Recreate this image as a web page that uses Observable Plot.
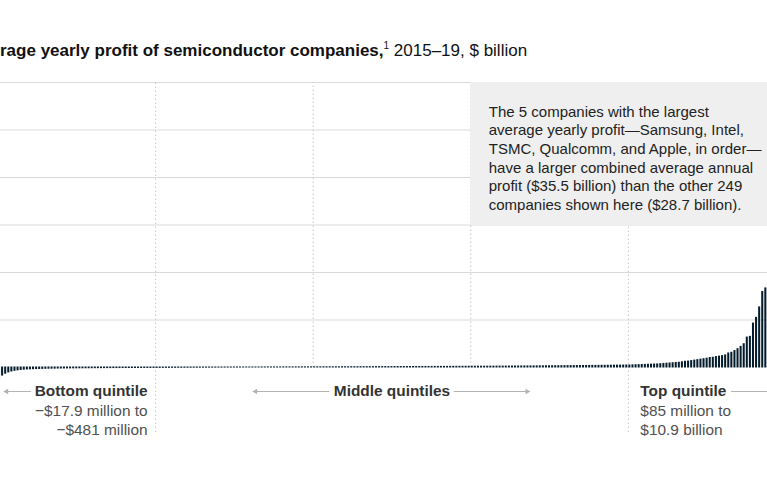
<!DOCTYPE html>
<html><head><meta charset="utf-8">
<script src="https://cdn.jsdelivr.net/npm/d3@7"></script>
<script src="https://cdn.jsdelivr.net/npm/@observablehq/plot@0.6"></script>
<style>
html,body{margin:0;padding:0;background:#fff;overflow:hidden}
#frame{position:relative;width:767px;height:480px;overflow:hidden;font-family:"Liberation Sans",Arial,sans-serif}
#title{position:absolute;top:40px;left:0;white-space:nowrap;font-size:17px;line-height:22px;color:#111}
#title b{font-weight:700}
#title sup{font-size:10px;vertical-align:7px;line-height:0}
#chart{position:absolute;left:0;top:70px}
</style></head>
<body><div id="frame"><div id="title"></div><div id="chart"></div></div>
<script>
// Average yearly profit, 2015-19, $ billion, companies sorted ascending
const bottomQuintile = [
  -0.481,-0.340,-0.262,-0.205,-0.168,-0.140,-0.120,-0.104,-0.093,-0.084,
  -0.077,-0.071,-0.066,-0.062,-0.058,-0.055,-0.052,-0.049,-0.047,-0.045,
  -0.043,-0.041,-0.039,-0.037,-0.036,-0.035,-0.034,-0.033,-0.032,-0.031,
  -0.030,-0.029,-0.028,-0.027,-0.026,-0.026,-0.025,-0.024,-0.024,-0.023,
  -0.022,-0.022,-0.021,-0.021,-0.020,-0.020,-0.019,-0.019,-0.018,-0.018,
  -0.0179
];
const secondQuintile = [
  -0.017,-0.016,-0.016,-0.015,-0.014,-0.014,-0.013,-0.012,-0.012,-0.011,
  -0.010,-0.010,-0.009,-0.009,-0.008,-0.007,-0.007,-0.006,-0.006,-0.005,
  -0.005,-0.004,-0.004,-0.003,-0.003,-0.002,-0.002,-0.001,-0.001,0.000,
  0.000,0.001,0.001,0.001,0.002,0.002,0.002,0.003,0.003,0.003,
  0.004,0.004,0.004,0.005,0.005,0.005,0.006,0.006,0.006,0.007,
  0.007
];
const thirdQuintile = [
  0.007,0.008,0.008,0.008,0.009,0.009,0.009,0.010,0.010,0.011,
  0.011,0.011,0.012,0.012,0.013,0.013,0.013,0.014,0.014,0.015,
  0.015,0.016,0.016,0.017,0.017,0.018,0.018,0.019,0.019,0.020,
  0.020,0.021,0.021,0.022,0.022,0.023,0.023,0.024,0.024,0.025,
  0.025,0.026,0.026,0.027,0.028,0.028,0.029,0.029,0.030,0.031,
  0.031
];
const fourthQuintile = [
  0.032,0.032,0.033,0.034,0.034,0.035,0.036,0.036,0.037,0.038,
  0.039,0.039,0.040,0.041,0.042,0.043,0.043,0.044,0.045,0.046,
  0.047,0.048,0.049,0.050,0.051,0.052,0.053,0.054,0.055,0.056,
  0.057,0.058,0.059,0.060,0.061,0.062,0.063,0.064,0.066,0.067,
  0.068,0.070,0.071,0.072,0.074,0.075,0.077,0.078,0.080,0.082,
  0.084
];
const topQuintile = [
  0.085,0.090,0.095,0.100,0.105,0.110,0.115,0.120,0.125,0.130,
  0.140,0.150,0.160,0.170,0.180,0.190,0.200,0.220,0.240,0.250,
  0.270,0.290,0.310,0.330,0.350,
  0.37,0.40,0.41,0.44,0.46,0.48,0.51,0.59,0.62,0.69,
  0.77,0.87,0.98,1.26,1.29,1.85,2.09,2.53,3.18,3.33,
  4.3,5.0,6.8,8.5,10.9
];
const gridTicks = [2, 4, 6, 8, 10, 12];

const titleBold = "Average yearly profit of semiconductor companies,";
const titleNote = "1";
const titleRest = " 2015–19, $ billion";
const noteText = "The 5 companies with the largest\naverage yearly profit—Samsung, Intel,\nTSMC, Qualcomm, and Apple, in order—\nhave a larger combined average annual\nprofit ($35.5 billion) than the other 249\ncompanies shown here ($28.7 billion).";
const bottomLabel = "Bottom quintile";
const bottomRange = "−$17.9 million to\n−$481 million";
const middleLabel = "Middle quintiles";
const topLabel = "Top quintile";
const topRange = "$85 million to\n$10.9 billion";

// title (left part cropped as in the reference)
const t = document.getElementById("title");
t.innerHTML = `<b><span id="cut">${titleBold.slice(0,3)}</span>${titleBold.slice(3)}</b><sup>${titleNote}</sup>${titleRest}`;
t.style.left = (-document.getElementById("cut").getBoundingClientRect().width) + "px";

const groups = [bottomQuintile, secondQuintile, thirdQuintile, fourthQuintile, topQuintile];
const profits = groups.flat().map((v, i) => ({i, v}));
const n = profits.length;
const bounds = [];
let acc = 0;
for (let k = 0; k < groups.length - 1; k++) { acc += groups[k].length; bounds.push(acc); }
const mid = (bounds[0] + bounds[3]) / 2;
const pitch = 3.09;
const x0 = -2.5;

const font = "'Liberation Sans', Arial, sans-serif";
const lineStyle = {stroke: "#b3b3b3", strokeWidth: 1, headLength: 0};
const headLeft = {draw(ctx, size) { const s = Math.sqrt(size); ctx.moveTo(0, 0); ctx.lineTo(s, -s * 0.55); ctx.lineTo(s, s * 0.55); ctx.closePath(); }};
const headRight = {draw(ctx, size) { const s = Math.sqrt(size); ctx.moveTo(0, 0); ctx.lineTo(-s, -s * 0.55); ctx.lineTo(-s, s * 0.55); ctx.closePath(); }};
const headStyle = {fill: "#b3b3b3", stroke: null, r: 2.8};
const labelSize = 15.4;

const chart = Plot.plot({
  width: 767,
  height: 410,
  margin: 0,
  style: {overflow: "hidden", fontFamily: font, background: "transparent"},
  x: {domain: [0, n], range: [x0, x0 + n * pitch], axis: null},
  y: {domain: [0, 12], range: [297, 12], axis: null},
  marks: [
    Plot.ruleY(gridTicks, {stroke: "#d9d9d9", strokeWidth: 1}),
    Plot.ruleX([bounds[1], bounds[2]], {y1: 0, y2: 12, stroke: "#c6c6c6", strokeDasharray: "1.5,2.5"}),
    Plot.ruleX([bounds[0], bounds[3]], {y1: -2.74, y2: 12, stroke: "#c6c6c6", strokeDasharray: "1.5,2.5"}),
    Plot.rect([0], {x1: bounds[2], x2: n, y1: gridTicks[2], y2: 12, fill: "#efefef"}),
    Plot.rect(profits, {x1: "i", x2: d => d.i + 1, y1: 0, y2: "v", fill: "#051c2c",
      insetLeft: 0.5, insetRight: 0.55, insetTop: -0.5, insetBottom: -0.5}),
    Plot.text([noteText], {x: bounds[2], y: 12, text: d => d, dx: 18, dy: 21, textAnchor: "start",
      lineAnchor: "top", fontSize: 15, lineHeight: 1.245, fill: "#222"}),
    // quintile labels
    Plot.text([bottomLabel], {x: bounds[0], y: 0, text: d => d, dx: -8, dy: 24, textAnchor: "end",
      fontWeight: "bold", fontSize: labelSize, fill: "#333"}),
    Plot.text([bottomRange], {x: bounds[0], y: 0, text: d => d, dx: -8, dy: 52, textAnchor: "end",
      fontSize: labelSize, lineHeight: 1.19, fill: "#505050"}),
    Plot.text([middleLabel], {x: mid, y: 0, text: d => d, dy: 24, textAnchor: "middle",
      fontWeight: "bold", fontSize: labelSize, fill: "#333"}),
    Plot.text([topLabel], {x: bounds[3], y: 0, text: d => d, dx: 12, dy: 24, textAnchor: "start",
      fontWeight: "bold", fontSize: labelSize, fill: "#333"}),
    Plot.text([topRange], {x: bounds[3], y: 0, text: d => d, dx: 12, dy: 52, textAnchor: "start",
      fontSize: labelSize, lineHeight: 1.19, fill: "#505050"}),
    // arrows: lines + filled heads
    Plot.arrow([0], {x1: bounds[0], x2: 0, y1: 0, y2: 0, dy: 24, insetStart: 125, insetEnd: 8, ...lineStyle}),
    Plot.arrow([0], {x1: mid, x2: bounds[0], y1: 0, y2: 0, dy: 24, insetStart: 63, insetEnd: 99, ...lineStyle}),
    Plot.arrow([0], {x1: mid, x2: bounds[3], y1: 0, y2: 0, dy: 24, insetStart: 62, insetEnd: 100, ...lineStyle}),
    Plot.arrow([0], {x1: bounds[3], x2: n, y1: 0, y2: 0, dy: 24, insetStart: 103, insetEnd: 3, ...lineStyle}),
    Plot.dot([0], {x: 0, y: 0, dx: 5.2, dy: 24, symbol: headLeft, ...headStyle}),
    Plot.dot([0], {x: bounds[0], y: 0, dx: 96.6, dy: 24, symbol: headLeft, ...headStyle}),
    Plot.dot([0], {x: bounds[3], y: 0, dx: -97.9, dy: 24, symbol: headRight, ...headStyle})
  ]
});
document.getElementById("chart").appendChild(chart);
</script>
</body></html>
